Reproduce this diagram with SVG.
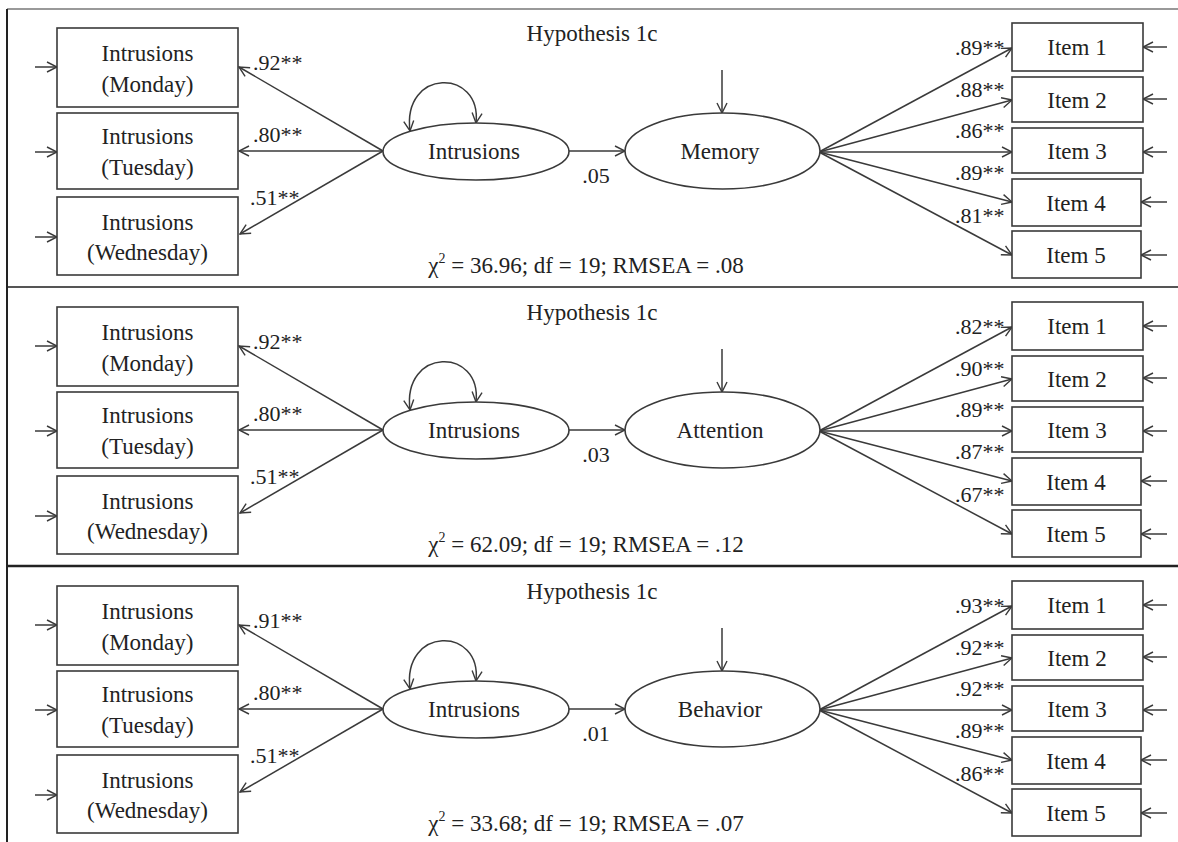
<svg xmlns="http://www.w3.org/2000/svg" width="1178" height="842" viewBox="0 0 1178 842">
<defs>
<marker id="ah" viewBox="0 0 12 12" refX="11" refY="6" markerWidth="12" markerHeight="12" markerUnits="userSpaceOnUse" orient="auto-start-reverse">
<path d="M1,1 L11,6 L1,11" fill="none" stroke="#3a3a3a" stroke-width="1.4"/>
</marker>
</defs>
<style>
text{font-family:"Liberation Serif","Times New Roman",serif;fill:#222}
.t{font-size:23px;text-anchor:middle}
.l{font-size:22px}
.m{font-size:22px;text-anchor:middle}
.box{fill:#fff;stroke:#3a3a3a;stroke-width:1.6}
.ell{fill:#fff;stroke:#3a3a3a;stroke-width:1.6}
.c{fill:none;stroke:#3a3a3a;stroke-width:1.5;marker-end:url(#ah)}
.cc{fill:none;stroke:#3a3a3a;stroke-width:1.5;marker-end:url(#ah);marker-start:url(#ah)}
</style>
<rect x="0" y="0" width="1178" height="842" fill="#fff"/>
<g id="frame">
<line x1="7" y1="9" x2="1178" y2="9" stroke="#777" stroke-width="1.5"/>
<line x1="7" y1="287" x2="1178" y2="287" stroke="#555" stroke-width="2"/>
<line x1="7" y1="566" x2="1178" y2="566" stroke="#222" stroke-width="2.5"/>
<line x1="7" y1="9" x2="7" y2="842" stroke="#222" stroke-width="2"/>
</g>

<!-- Panel 1 -->
<g id="panel1">
<text class="t" x="592" y="41">Hypothesis 1c</text>
<g id="p1-connectors">
<line class="c" x1="35" y1="67" x2="57" y2="67"/>
<line class="c" x1="35" y1="152" x2="57" y2="152"/>
<line class="c" x1="35" y1="237" x2="57" y2="237"/>
<line class="c" x1="383" y1="151" x2="239" y2="67"/>
<line class="c" x1="383" y1="151" x2="239" y2="151"/>
<line class="c" x1="383" y1="151" x2="240" y2="234"/>
<path class="cc" d="M410,131 C402,68 482,68 476,123"/>
<line class="c" x1="569" y1="151" x2="625" y2="151"/>
<line class="c" x1="722" y1="70" x2="722" y2="113"/>
<line class="c" x1="819" y1="152" x2="1012" y2="48"/>
<line class="c" x1="819" y1="152" x2="1012" y2="100"/>
<line class="c" x1="819" y1="152" x2="1012" y2="152"/>
<line class="c" x1="819" y1="152" x2="1012" y2="202"/>
<line class="c" x1="819" y1="152" x2="1012" y2="255"/>
<line class="c" x1="1167" y1="47" x2="1143" y2="47"/>
<line class="c" x1="1167" y1="99" x2="1143" y2="99"/>
<line class="c" x1="1167" y1="152" x2="1143" y2="152"/>
<line class="c" x1="1167" y1="202" x2="1141" y2="202"/>
<line class="c" x1="1167" y1="255" x2="1141" y2="255"/>
<text class="l" x="253" y="70">.92**</text>
<text class="l" x="253" y="142">.80**</text>
<text class="l" x="250" y="205">.51**</text>
<text class="m" x="596" y="183">.05</text>
<text class="l" x="955" y="55">.89**</text>
<text class="l" x="955" y="97">.88**</text>
<text class="l" x="955" y="138">.86**</text>
<text class="l" x="955" y="180">.89**</text>
<text class="l" x="955" y="223">.81**</text>
</g>
<g id="p1-monday"><rect class="box" x="57" y="28" width="181" height="79"/><text class="t" x="147.5" y="61">Intrusions</text><text class="t" x="147.5" y="92">(Monday)</text></g>
<g id="p1-tuesday"><rect class="box" x="57" y="113" width="181" height="76"/><text class="t" x="147.5" y="144">Intrusions</text><text class="t" x="147.5" y="175">(Tuesday)</text></g>
<g id="p1-wednesday"><rect class="box" x="57" y="197" width="181" height="78"/><text class="t" x="147.5" y="230">Intrusions</text><text class="t" x="147.5" y="260">(Wednesday)</text></g>
<g id="p1-intrusions"><ellipse class="ell" cx="476" cy="151.5" rx="93" ry="28.5"/><text class="t" x="474" y="159">Intrusions</text></g>
<g id="p1-memory"><ellipse class="ell" cx="722.5" cy="151" rx="97.5" ry="38"/><text class="t" x="720" y="159">Memory</text></g>
<g id="p1-item1"><rect class="box" x="1012" y="23" width="131" height="48"/><text class="t" x="1077" y="55">Item 1</text></g>
<g id="p1-item2"><rect class="box" x="1012" y="77" width="131" height="45"/><text class="t" x="1077" y="107.5">Item 2</text></g>
<g id="p1-item3"><rect class="box" x="1012" y="128" width="131" height="45"/><text class="t" x="1077" y="159">Item 3</text></g>
<g id="p1-item4"><rect class="box" x="1012" y="179" width="129" height="47"/><text class="t" x="1076" y="210.5">Item 4</text></g>
<g id="p1-item5"><rect class="box" x="1012" y="231" width="129" height="47"/><text class="t" x="1076" y="262.5">Item 5</text></g>
<text class="t" x="586" y="273">χ<tspan font-size="14" dy="-10">2</tspan><tspan dy="10"> = 36.96; df = 19; RMSEA = .08</tspan></text>
</g>

<!-- Panel 2 -->
<g id="panel2" transform="translate(0,279)">
<text class="t" x="592" y="41">Hypothesis 1c</text>
<g id="p2-connectors">
<line class="c" x1="35" y1="67" x2="57" y2="67"/>
<line class="c" x1="35" y1="152" x2="57" y2="152"/>
<line class="c" x1="35" y1="237" x2="57" y2="237"/>
<line class="c" x1="383" y1="151" x2="239" y2="67"/>
<line class="c" x1="383" y1="151" x2="239" y2="151"/>
<line class="c" x1="383" y1="151" x2="240" y2="234"/>
<path class="cc" d="M410,131 C402,68 482,68 476,123"/>
<line class="c" x1="569" y1="151" x2="625" y2="151"/>
<line class="c" x1="722" y1="70" x2="722" y2="113"/>
<line class="c" x1="819" y1="152" x2="1012" y2="48"/>
<line class="c" x1="819" y1="152" x2="1012" y2="100"/>
<line class="c" x1="819" y1="152" x2="1012" y2="152"/>
<line class="c" x1="819" y1="152" x2="1012" y2="202"/>
<line class="c" x1="819" y1="152" x2="1012" y2="255"/>
<line class="c" x1="1167" y1="47" x2="1143" y2="47"/>
<line class="c" x1="1167" y1="99" x2="1143" y2="99"/>
<line class="c" x1="1167" y1="152" x2="1143" y2="152"/>
<line class="c" x1="1167" y1="202" x2="1141" y2="202"/>
<line class="c" x1="1167" y1="255" x2="1141" y2="255"/>
<text class="l" x="253" y="70">.92**</text>
<text class="l" x="253" y="142">.80**</text>
<text class="l" x="250" y="205">.51**</text>
<text class="m" x="596" y="183">.03</text>
<text class="l" x="955" y="55">.82**</text>
<text class="l" x="955" y="97">.90**</text>
<text class="l" x="955" y="138">.89**</text>
<text class="l" x="955" y="180">.87**</text>
<text class="l" x="955" y="223">.67**</text>
</g>
<g id="p2-monday"><rect class="box" x="57" y="28" width="181" height="79"/><text class="t" x="147.5" y="61">Intrusions</text><text class="t" x="147.5" y="92">(Monday)</text></g>
<g id="p2-tuesday"><rect class="box" x="57" y="113" width="181" height="76"/><text class="t" x="147.5" y="144">Intrusions</text><text class="t" x="147.5" y="175">(Tuesday)</text></g>
<g id="p2-wednesday"><rect class="box" x="57" y="197" width="181" height="78"/><text class="t" x="147.5" y="230">Intrusions</text><text class="t" x="147.5" y="260">(Wednesday)</text></g>
<g id="p2-intrusions"><ellipse class="ell" cx="476" cy="151.5" rx="93" ry="28.5"/><text class="t" x="474" y="159">Intrusions</text></g>
<g id="p2-attention"><ellipse class="ell" cx="722.5" cy="151" rx="97.5" ry="38"/><text class="t" x="720" y="159">Attention</text></g>
<g id="p2-item1"><rect class="box" x="1012" y="23" width="131" height="48"/><text class="t" x="1077" y="55">Item 1</text></g>
<g id="p2-item2"><rect class="box" x="1012" y="77" width="131" height="45"/><text class="t" x="1077" y="107.5">Item 2</text></g>
<g id="p2-item3"><rect class="box" x="1012" y="128" width="131" height="45"/><text class="t" x="1077" y="159">Item 3</text></g>
<g id="p2-item4"><rect class="box" x="1012" y="179" width="129" height="47"/><text class="t" x="1076" y="210.5">Item 4</text></g>
<g id="p2-item5"><rect class="box" x="1012" y="231" width="129" height="47"/><text class="t" x="1076" y="262.5">Item 5</text></g>
<text class="t" x="586" y="273">χ<tspan font-size="14" dy="-10">2</tspan><tspan dy="10"> = 62.09; df = 19; RMSEA = .12</tspan></text>
</g>

<!-- Panel 3 -->
<g id="panel3" transform="translate(0,558)">
<text class="t" x="592" y="41">Hypothesis 1c</text>
<g id="p3-connectors">
<line class="c" x1="35" y1="67" x2="57" y2="67"/>
<line class="c" x1="35" y1="152" x2="57" y2="152"/>
<line class="c" x1="35" y1="237" x2="57" y2="237"/>
<line class="c" x1="383" y1="151" x2="239" y2="67"/>
<line class="c" x1="383" y1="151" x2="239" y2="151"/>
<line class="c" x1="383" y1="151" x2="240" y2="234"/>
<path class="cc" d="M410,131 C402,68 482,68 476,123"/>
<line class="c" x1="569" y1="151" x2="625" y2="151"/>
<line class="c" x1="722" y1="70" x2="722" y2="113"/>
<line class="c" x1="819" y1="152" x2="1012" y2="48"/>
<line class="c" x1="819" y1="152" x2="1012" y2="100"/>
<line class="c" x1="819" y1="152" x2="1012" y2="152"/>
<line class="c" x1="819" y1="152" x2="1012" y2="202"/>
<line class="c" x1="819" y1="152" x2="1012" y2="255"/>
<line class="c" x1="1167" y1="47" x2="1143" y2="47"/>
<line class="c" x1="1167" y1="99" x2="1143" y2="99"/>
<line class="c" x1="1167" y1="152" x2="1143" y2="152"/>
<line class="c" x1="1167" y1="202" x2="1141" y2="202"/>
<line class="c" x1="1167" y1="255" x2="1141" y2="255"/>
<text class="l" x="253" y="70">.91**</text>
<text class="l" x="253" y="142">.80**</text>
<text class="l" x="250" y="205">.51**</text>
<text class="m" x="596" y="183">.01</text>
<text class="l" x="955" y="55">.93**</text>
<text class="l" x="955" y="97">.92**</text>
<text class="l" x="955" y="138">.92**</text>
<text class="l" x="955" y="180">.89**</text>
<text class="l" x="955" y="223">.86**</text>
</g>
<g id="p3-monday"><rect class="box" x="57" y="28" width="181" height="79"/><text class="t" x="147.5" y="61">Intrusions</text><text class="t" x="147.5" y="92">(Monday)</text></g>
<g id="p3-tuesday"><rect class="box" x="57" y="113" width="181" height="76"/><text class="t" x="147.5" y="144">Intrusions</text><text class="t" x="147.5" y="175">(Tuesday)</text></g>
<g id="p3-wednesday"><rect class="box" x="57" y="197" width="181" height="78"/><text class="t" x="147.5" y="230">Intrusions</text><text class="t" x="147.5" y="260">(Wednesday)</text></g>
<g id="p3-intrusions"><ellipse class="ell" cx="476" cy="151.5" rx="93" ry="28.5"/><text class="t" x="474" y="159">Intrusions</text></g>
<g id="p3-behavior"><ellipse class="ell" cx="722.5" cy="151" rx="97.5" ry="38"/><text class="t" x="720" y="159">Behavior</text></g>
<g id="p3-item1"><rect class="box" x="1012" y="23" width="131" height="48"/><text class="t" x="1077" y="55">Item 1</text></g>
<g id="p3-item2"><rect class="box" x="1012" y="77" width="131" height="45"/><text class="t" x="1077" y="107.5">Item 2</text></g>
<g id="p3-item3"><rect class="box" x="1012" y="128" width="131" height="45"/><text class="t" x="1077" y="159">Item 3</text></g>
<g id="p3-item4"><rect class="box" x="1012" y="179" width="129" height="47"/><text class="t" x="1076" y="210.5">Item 4</text></g>
<g id="p3-item5"><rect class="box" x="1012" y="231" width="129" height="47"/><text class="t" x="1076" y="262.5">Item 5</text></g>
<text class="t" x="586" y="273">χ<tspan font-size="14" dy="-10">2</tspan><tspan dy="10"> = 33.68; df = 19; RMSEA = .07</tspan></text>
</g>
</svg>
